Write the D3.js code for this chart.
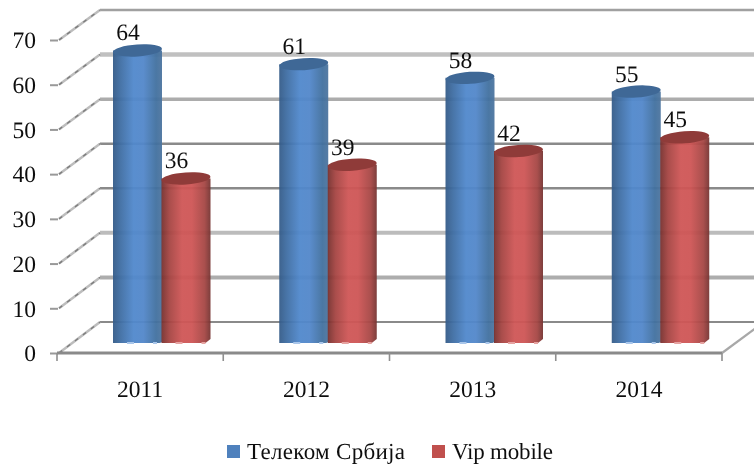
<!DOCTYPE html>
<html>
<head>
<meta charset="utf-8">
<script src="https://d3js.org/d3.v7.min.js"></script>
<style>
  body { margin: 0; background: #fff; }
  text { font-family: "Liberation Serif", serif; font-size: 23.5px; fill: #111; text-rendering: geometricPrecision; filter: url(#soft); }
</style>
</head>
<body>
<svg id="chart" width="754" height="465"></svg>
<script>
const years = ["2011", "2012", "2013", "2014"];
const seriesNames = ["Телеком Србија", "Vip mobile"];
const telekom = [64, 61, 58, 55];
const vip = [36, 39, 42, 45];
const yTicks = [0, 10, 20, 30, 40, 50, 60, 70];

let width = 754,
    height = 465,
    depthX = 42,
    depthY = 31,
    barWidth = 49,
    colors = [
      { name: "blue", top: "#3f6896", swatch: "#4f81bd", speck: "#a9c6ea",
        stops: ["#345b88", "#3f6ea4", "#5088cc", "#5287ca", "#41709f", "#4d759f"] },
      { name: "red", top: "#8f3b39", swatch: "#c0504d", speck: "#e6a3a1",
        stops: ["#76302e", "#a54442", "#cf5656", "#ce5555", "#a54644", "#763432"] }
    ];

// one look per gridline, the reference is uneven
let gridLook = {
  0: ["#8a8a8a", 2], 10: ["#adadad", 4], 20: ["#bcbcbc", 4], 30: ["#8a8a8a", 2.5],
  40: ["#8a8a8a", 2.5], 50: ["#acacac", 3.5], 60: ["#c0c0c0", 4.5], 70: ["#a0a0a0", 2.5]
};

function visualize() {
  let scales = make_scales();
  let svg = d3.select("#chart");
  make_defs(svg);
  draw_walls(svg, scales);
  draw_axes(svg, scales);
  draw_bars(svg, scales);
  draw_legend(svg);
}

function make_scales() {
  return {
    x: d3.scaleBand().domain(years).range([57, 722]),
    front: d3.scaleLinear().domain([0, 70]).range([353, 40]),
    back: d3.scaleLinear().domain([0, 70]).range([322, 10]),
    // bars stand between the front and back planes
    bar: d3.scaleLinear().domain([0, 70]).range([343, 23]),
    series: d3.scaleBand().domain(d3.range(seriesNames.length)).range([0, 97])
  };
}

function make_defs(svg) {
  let defs = svg.append("defs");
  colors.forEach(c => {
    let grad = defs.append("linearGradient").attr("id", "grad-" + c.name);
    grad.selectAll("stop")
      .data(c.stops).enter()
      .append("stop")
      .attr("offset", (d, i) => [0, 0.16, 0.42, 0.62, 0.88, 1][i])
      .attr("stop-color", d => d);
  });
  // the reference is a scaled up bitmap, text is a bit soft
  defs.append("filter")
    .attr("id", "soft")
    .append("feGaussianBlur")
    .attr("stdDeviation", 0.35);
}

function draw_walls(svg, scales) {
  // back gridlines
  svg.append("g").selectAll("line")
    .data(yTicks).enter()
    .append("line")
    .attr("x1", 100)
    .attr("x2", width)
    .attr("y1", d => scales.back(d))
    .attr("y2", d => scales.back(d))
    .attr("stroke", d => gridLook[d][0])
    .attr("stroke-width", d => gridLook[d][1]);

  // side wall, jagged in the reference so two strokes on top of each other
  let side = svg.append("g");
  side.selectAll("line.base")
    .data(yTicks).enter()
    .append("line")
    .attr("class", "base")
    .attr("x1", 59).attr("x2", 100)
    .attr("y1", d => scales.front(d))
    .attr("y2", d => scales.back(d))
    .attr("stroke", "#bdbdbd")
    .attr("stroke-width", 2.5);
  side.selectAll("line.dash")
    .data(yTicks).enter()
    .append("line")
    .attr("class", "dash")
    .attr("x1", 59).attr("x2", 100)
    .attr("y1", d => scales.front(d))
    .attr("y2", d => scales.back(d))
    .attr("stroke", "#7d7d7d")
    .attr("stroke-width", 1.4)
    .attr("stroke-dasharray", "4 6");

  // right edge of the floor runs off the picture
  let right = scales.x.range()[1];
  svg.append("line")
    .attr("x1", right).attr("x2", right + depthX)
    .attr("y1", scales.front(0)).attr("y2", scales.front(0) - depthY)
    .attr("stroke", "#a8a8a8")
    .attr("stroke-width", 2.2);
}

function draw_axes(svg, scales) {
  let yAxis = d3.axisLeft(scales.front)
    .tickValues(yTicks)
    .tickSize(8)
    .tickPadding(14);
  let gy = svg.append("g")
    .attr("transform", "translate(58,0)")
    .call(yAxis);
  gy.select(".domain").remove();
  gy.selectAll("line").attr("stroke", "#999").attr("stroke-width", 2);
  gy.selectAll("text")
    .style("font-size", "23.5px")
    .attr("dy", "0.33em");

  let xAxis = d3.axisBottom(scales.x)
    .tickSize(0)
    .tickPadding(27);
  let gx = svg.append("g")
    .attr("transform", `translate(0,${scales.front(0)})`)
    .call(xAxis);
  gx.select(".domain").remove();
  gx.selectAll("text").style("font-size", "23.5px");

  // floor line and ticks between the years
  svg.append("line")
    .attr("x1", 57).attr("x2", 722)
    .attr("y1", scales.front(0)).attr("y2", scales.front(0))
    .attr("stroke", "#8a8a8a")
    .attr("stroke-width", 3);
  let edges = years.map(d => scales.x(d)).concat(scales.x.range()[1]);
  svg.append("g").selectAll("line")
    .data(edges).enter()
    .append("line")
    .attr("x1", d => d).attr("x2", d => d)
    .attr("y1", scales.front(0)).attr("y2", scales.front(0) + 8)
    .attr("stroke", "#8f8f8f")
    .attr("stroke-width", 1.6);
}

function draw_bars(svg, scales) {
  let base = scales.bar(0);
  [telekom, vip].forEach((values, s) => {
    let c = colors[s];
    let g = svg.append("g").selectAll("g")
      .data(values).enter()
      .append("g")
      .attr("transform", (d, i) =>
        `translate(${scales.x(years[i]) + 56 + scales.series(s)},0)`);

    g.append("path")
      .attr("d", d => `M0,${scales.bar(d)}H${barWidth}V${base - (s ? 4 : 1)}L${barWidth - (s ? 5 : 2)},${base}H0Z`)
      .attr("fill", `url(#grad-${c.name})`)
      .attr("fill-opacity", 0.95);

    // little light specks along the foot of each bar
    g.selectAll("rect")
      .data([[14, 7], [40, 4]]).enter()
      .append("rect")
      .attr("x", d => d[0])
      .attr("y", base - 1)
      .attr("width", d => d[1])
      .attr("height", 2)
      .attr("fill", c.speck);

    g.append("ellipse")
      .attr("cx", barWidth / 2)
      .attr("cy", d => scales.bar(d))
      .attr("rx", barWidth / 2)
      .attr("ry", 6)
      .attr("transform", d => `rotate(-4 ${barWidth / 2} ${scales.bar(d)})`)
      .attr("fill", c.top);

    g.append("text")
      .attr("class", "value")
      .attr("x", 15)
      .attr("y", d => scales.bar(d) - 10)
      .attr("text-anchor", "middle")
      .text(d => d);
  });
}

function draw_legend(svg) {
  let items = [{ x: 227, textX: 247, len: 158 }, { x: 432, textX: 452, len: 101 }];
  let g = svg.append("g").selectAll("g")
    .data(seriesNames).enter()
    .append("g");
  g.append("rect")
    .attr("x", (d, i) => items[i].x)
    .attr("y", 445)
    .attr("width", 13)
    .attr("height", 13)
    .attr("fill", (d, i) => colors[i].swatch);
  g.append("text")
    .attr("x", (d, i) => items[i].textX)
    .attr("y", 459)
    .attr("textLength", (d, i) => items[i].len)
    .style("font-size", "23px")
    .text(d => d);
}

visualize();
</script>
</body>
</html>
